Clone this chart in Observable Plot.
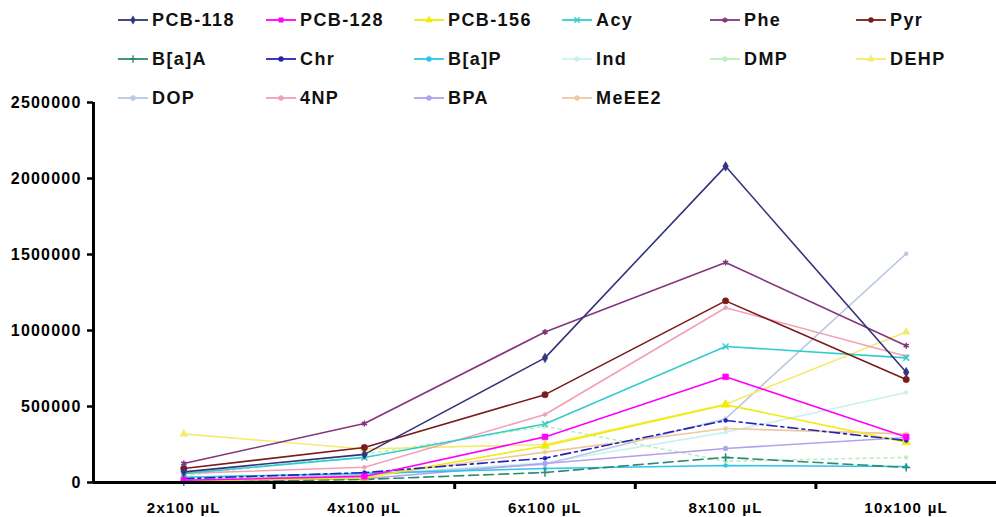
<!DOCTYPE html>
<html>
<head>
<meta charset="utf-8">
<script src="https://cdn.jsdelivr.net/npm/d3@7"></script>
<script src="https://cdn.jsdelivr.net/npm/@observablehq/plot@0.6"></script>
<style>
  html, body { margin: 0; padding: 0; background: #fff; }
  #wrap { position: relative; width: 996px; height: 517px; overflow: hidden; font-family: "Liberation Sans", Arial, sans-serif; }
  #legend { position: absolute; left: 0; top: 0; width: 996px; height: 110px; pointer-events: none; }
  .item { position: absolute; display: flex; align-items: center; white-space: nowrap; }
  .item span { font-weight: bold; font-size: 18px; letter-spacing: 1.4px; color: #111; margin-left: 3px; }
</style>
</head>
<body>
<div id="wrap"><div id="chart"></div><div id="legend"></div></div>
<script>
// ---- data ----
const categories = ["2x100 µL", "4x100 µL", "6x100 µL", "8x100 µL", "10x100 µL"];
const yTicks = [0, 500000, 1000000, 1500000, 2000000, 2500000];

const seriesNames = ["PCB-118","PCB-128","PCB-156","Acy","Phe","Pyr",
                     "B[a]A","Chr","B[a]P","Ind","DMP","DEHP",
                     "DOP","4NP","BPA","MeEE2"];

const pcb118 = [70000, 185000, 820000, 2080000, 725000];
const pcb128 = [15000, 40000, 300000, 695000, 300000];
const pcb156 = [10000, 30000, 240000, 512000, 265000];
const acy    = [60000, 165000, 385000, 895000, 820000];
const phe    = [125000, 388000, 990000, 1447000, 900000];
const pyr    = [92000, 230000, 578000, 1195000, 678000];
const baa    = [5000, 20000, 66000, 165000, 99000];
const chr    = [25000, 65000, 160000, 408000, 276000];
const bap    = [35000, 60000, 92000, 112000, 105000];
const ind    = [20000, 50000, 130000, 330000, 592000];
const dmp    = [45000, 185000, 370000, 140000, 165000];
const dehp   = [320000, 220000, 250000, 515000, 990000];
const dop    = [15000, 50000, 120000, 420000, 1505000];
const np4    = [60000, 100000, 447000, 1150000, 830000];
const bpa    = [10000, 25000, 125000, 224000, 296000];
const meee2  = [15000, 40000, 200000, 355000, 320000];

const seriesValues = [pcb118, pcb128, pcb156, acy, phe, pyr, baa, chr, bap, ind, dmp, dehp, dop, np4, bpa, meee2];

// ---- styling ----
const colors  = ["#34347e","#ff00ff","#f2ea00","#33cccc","#84357f","#7a1a1a",
                 "#2e8a70","#2424b4","#2ec4ea","#c8f2f2","#bdeebd","#f4ec70",
                 "#b9c9e3","#f2a0b6","#b4a0ee","#f0c8a0"];
const symbols = ["diamond","square","triangle","times","asterisk","circle",
                 "plus","circle","circle","circle","circle","triangle",
                 "circle","circle","circle","circle"];
const markR   = [3,3.3,3.3,2.8,2.8,3.2, 2.8,2,2,2,2,3, 2,2,2.5,2];
const dashes  = [null,null,null,null,null,null,
                 "10,5",  "10,4,3,4", null, null, "3,4", null,
                 null, null, null, null];
const drawOrder = [9,10,12,15,14,11,8,13,6,3,2,7,1,5,4,0];

const rows = [];
seriesNames.forEach((name, s) => seriesValues[s].forEach((v, i) => rows.push({series: name, s, i, v})));

const boundaries = categories.slice(1).map((_, i) => i + 0.5);

const marks = [
  Plot.axisY({ticks: yTicks, tickFormat: d => String(d), tickSize: 6, tickPadding: 6, fontSize: 16, label: null, strokeWidth: 2.5}),
  Plot.axisX({ticks: d3.range(categories.length), tickFormat: i => categories[i], tickSize: 0, tickPadding: 20, fontSize: 15, label: null}),
  Plot.axisX({ticks: boundaries, tickFormat: () => "", tickSize: 7, strokeWidth: 3, label: null})
];
for (const s of drawOrder) {
  const data = rows.filter(d => d.s === s);
  marks.push(Plot.line(data, {x: "i", y: "v", stroke: colors[s], strokeWidth: 1.6, strokeDasharray: dashes[s] || undefined}));
}
for (const s of drawOrder) {
  const data = rows.filter(d => d.s === s);
  const open = ["times","asterisk","plus"].includes(symbols[s]);
  marks.push(Plot.dot(data, {x: "i", y: "v", symbol: () => symbols[s], r: markR[s],
    fill: open ? "none" : colors[s], stroke: colors[s], strokeWidth: open ? 1.5 : 0.5}));
}
marks.push(Plot.ruleY([0], {stroke: "#000", strokeWidth: 3}));
marks.push(Plot.ruleX([-0.5], {y1: 0, y2: yTicks[yTicks.length - 1], stroke: "#000", strokeWidth: 3}));

const chart = Plot.plot({
  width: 996, height: 517,
  marginLeft: 93, marginRight: 0, marginTop: 102, marginBottom: 35,
  x: {type: "linear", domain: [-0.5, categories.length - 0.5]},
  y: {domain: [0, yTicks[yTicks.length - 1]]},
  symbol: {type: "identity"},
  style: {fontFamily: "'Liberation Sans', Arial, sans-serif", fontWeight: "bold", color: "#000", background: "#fff"},
  marks
});
chart.querySelectorAll('[aria-label="y-axis tick label"] text').forEach(t => t.style.letterSpacing = "1.2px");
chart.querySelectorAll('[aria-label="x-axis tick label"] text').forEach(t => t.style.letterSpacing = "1.3px");
document.getElementById("chart").appendChild(chart);

// ---- legend ----
const colX = [152, 300, 448, 596, 744, 890];
const rowY = [20, 59, 98];
const legend = d3.select("#legend");
const symMap = {diamond: d3.symbolDiamond, square: d3.symbolSquare, triangle: d3.symbolTriangle,
  times: d3.symbolTimes, asterisk: d3.symbolAsterisk, circle: d3.symbolCircle, plus: d3.symbolPlus};
seriesNames.forEach((name, k) => {
  const col = k % 6, row = Math.floor(k / 6);
  const item = legend.append("div").attr("class", "item")
    .style("left", (colX[col] - 35) + "px").style("top", (rowY[row] - 12) + "px").style("height", "24px");
  const sw = item.append("svg").attr("width", 32).attr("height", 12);
  sw.append("line").attr("x1", 1).attr("x2", 31).attr("y1", 6).attr("y2", 6)
    .attr("stroke", colors[k]).attr("stroke-width", 1.8);
  const open = ["times","asterisk","plus"].includes(symbols[k]);
  sw.append("path").attr("transform", "translate(16,6)")
    .attr("d", d3.symbol(symMap[symbols[k]], 20)())
    .attr("fill", open ? "none" : colors[k]).attr("stroke", colors[k]).attr("stroke-width", open ? 1.4 : 0.5);
  item.append("span").text(name);
});
</script>
</body>
</html>
